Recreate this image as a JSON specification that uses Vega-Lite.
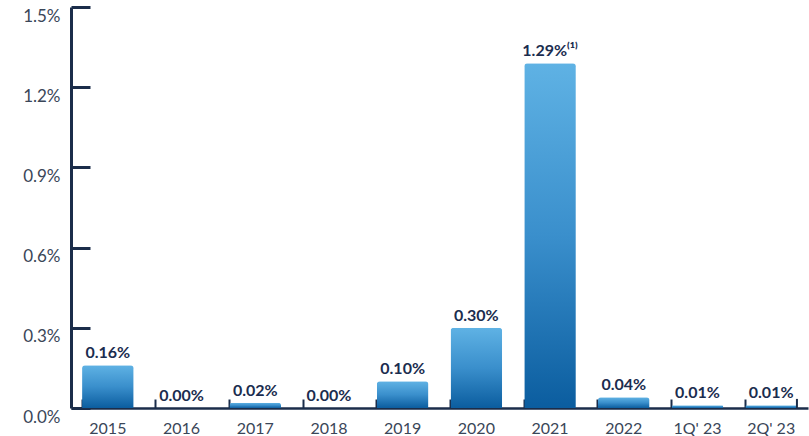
{
  "$schema": "https://vega.github.io/schema/vega-lite/v6.json",
  "width": 737,
  "height": 401,
  "autosize": "none",
  "padding": {"left": 71, "top": 7, "right": 1, "bottom": 28},
  "background": "white",
  "config": {"view": {"stroke": null}, "font": "Lato"},
  "data": {"values": [
    {"period": "2015", "rate": 0.0016, "label": "0.16%"},
    {"period": "2016", "rate": 0.0000, "label": "0.00%"},
    {"period": "2017", "rate": 0.0002, "label": "0.02%"},
    {"period": "2018", "rate": 0.0000, "label": "0.00%"},
    {"period": "2019", "rate": 0.0010, "label": "0.10%"},
    {"period": "2020", "rate": 0.0030, "label": "0.30%"},
    {"period": "2021", "rate": 0.0129, "label": "1.29%⁽¹⁾"},
    {"period": "2022", "rate": 0.0004, "label": "0.04%"},
    {"period": "1Q' 23", "rate": 0.0001, "label": "0.01%"},
    {"period": "2Q' 23", "rate": 0.0001, "label": "0.01%"}
  ]},
  "encoding": {
    "x": {
      "field": "period", "type": "nominal", "sort": null,
      "scale": {"paddingInner": 0.3, "paddingOuter": 0.15},
      "axis": {
        "title": null, "labelAngle": 0, "labelFontSize": 16, "labelColor": "#3a4658",
        "labelPadding": 21, "domainColor": "#1b2d4a", "domainWidth": 2.5,
        "tickColor": "#1b2d4a", "tickWidth": 2, "tickSize": -9, "bandPosition": 0
      }
    }
  },
  "layer": [
    {
      "mark": {
        "type": "bar",
        "cornerRadiusTopLeft": 3, "cornerRadiusTopRight": 3,
        "fill": {
          "gradient": "linear", "x1": 0, "y1": 0, "x2": 0, "y2": 1,
          "stops": [
            {"offset": 0, "color": "#5fb2e4"},
            {"offset": 0.5, "color": "#3a8fcc"},
            {"offset": 1, "color": "#0b5d9f"}
          ]
        }
      },
      "encoding": {
        "y": {
          "field": "rate", "type": "quantitative",
          "scale": {"domain": [0, 0.015], "nice": false},
          "axis": {
            "title": null, "values": [0, 0.003, 0.006, 0.009, 0.012, 0.015],
            "format": ".1%", "labelFontSize": 17, "labelColor": "#3a4658",
            "labelPadding": 30, "labelOffset": 9, "grid": false,
            "domainColor": "#1b2d4a", "domainWidth": 3,
            "tickColor": "#1b2d4a", "tickWidth": 3, "tickSize": -19
          }
        }
      }
    },
    {
      "mark": {
        "type": "text", "baseline": "bottom", "dy": -4,
        "fontSize": 16, "fontWeight": "bold", "color": "#1b2d4f"
      },
      "encoding": {
        "y": {"field": "rate", "type": "quantitative"},
        "text": {"field": "label"}
      }
    },
    {
      "transform": [{"filter": "datum.period === \"2Q' 23\""}],
      "mark": {"type": "rule", "color": "#1b2d4a", "strokeWidth": 2},
      "encoding": {
        "x": {"field": "period", "type": "nominal", "sort": null, "bandPosition": 1},
        "y": {"datum": 0},
        "y2": {"datum": 0.00034}
      }
    }
  ]
}
